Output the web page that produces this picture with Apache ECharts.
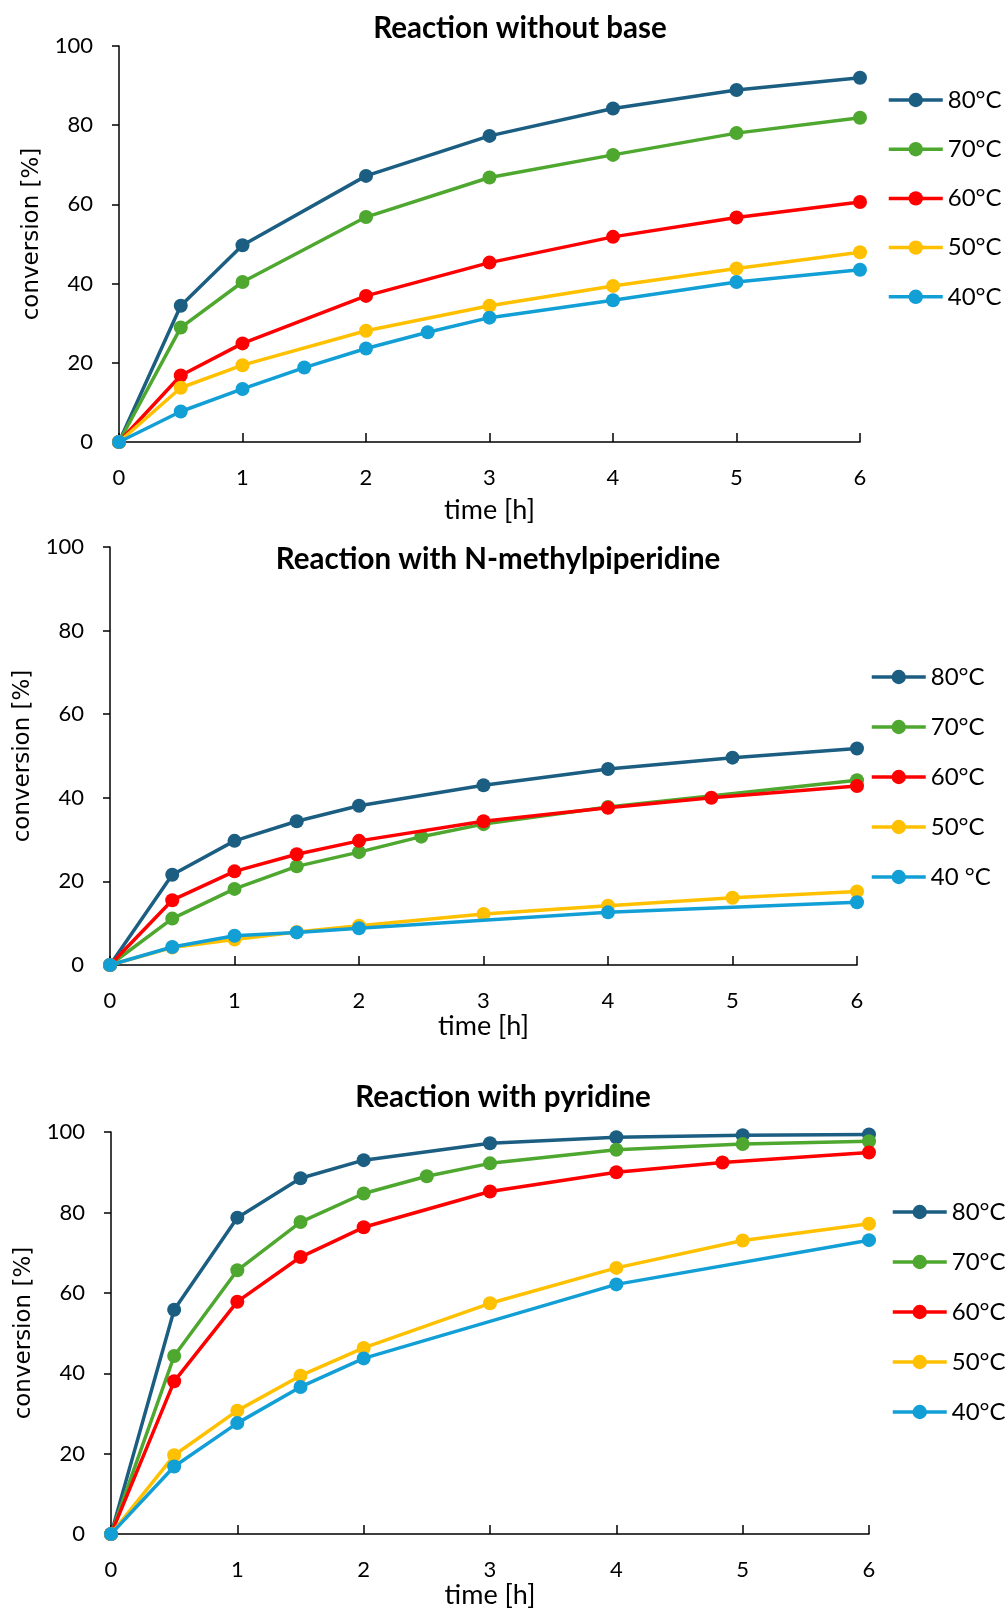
<!DOCTYPE html>
<html><head><meta charset="utf-8">
<script src="https://cdn.jsdelivr.net/npm/echarts@6/dist/echarts.min.js"></script>
<style>html,body{margin:0;padding:0;background:#fff}#c{width:1006px;height:1610px}</style>
</head><body><div id="c"></div>
<script>
// ---------- data ----------
const titles = ['Reaction without base', 'Reaction with N-methylpiperidine', 'Reaction with pyridine'];
const names1 = ['80°C', '70°C', '60°C', '50°C', '40°C'];
const names2 = ['80°C', '70°C', '60°C', '50°C', '40 °C'];
const names3 = ['80°C', '70°C', '60°C', '50°C', '40°C'];
const xTicks = [0, 1, 2, 3, 4, 5, 6];
const yTicks = [0, 20, 40, 60, 80, 100];

// Chart 1: without base
const t1_80 = [0, 0.5, 1, 2, 3, 4, 5, 6];
const c1_80 = [0, 34.4, 49.7, 67.2, 77.3, 84.2, 88.9, 92.0];
const t1_70 = [0, 0.5, 1, 2, 3, 4, 5, 6];
const c1_70 = [0, 28.9, 40.4, 56.8, 66.8, 72.5, 78.0, 81.9];
const t1_60 = [0, 0.5, 1, 2, 3, 4, 5, 6];
const c1_60 = [0, 16.8, 24.9, 36.9, 45.3, 51.8, 56.7, 60.6];
const t1_50 = [0, 0.5, 1, 2, 3, 4, 5, 6];
const c1_50 = [0, 13.7, 19.4, 28.1, 34.4, 39.4, 43.8, 47.9];
const t1_40 = [0, 0.5, 1, 1.5, 2, 2.5, 3, 4, 5, 6];
const c1_40 = [0, 7.7, 13.4, 18.8, 23.6, 27.7, 31.4, 35.8, 40.4, 43.5];

// Chart 2: with N-methylpiperidine
const t2_80 = [0, 0.5, 1, 1.5, 2, 3, 4, 5, 6];
const c2_80 = [0, 21.6, 29.7, 34.4, 38.1, 43.0, 46.9, 49.6, 51.8];
const t2_70 = [0, 0.5, 1, 1.5, 2, 2.5, 3, 4, 6];
const c2_70 = [0, 11.1, 18.2, 23.6, 27.0, 30.7, 33.7, 37.8, 44.2];
const t2_60 = [0, 0.5, 1, 1.5, 2, 3, 4, 4.83, 6];
const c2_60 = [0, 15.5, 22.4, 26.5, 29.7, 34.4, 37.6, 40.0, 42.8];
const t2_50 = [0, 0.5, 1, 1.5, 2, 3, 4, 5, 6];
const c2_50 = [0, 4.2, 6.1, 7.9, 9.4, 12.2, 14.2, 16.1, 17.6];
const t2_40 = [0, 0.5, 1, 1.5, 2, 4, 6];
const c2_40 = [0, 4.3, 7.0, 7.8, 8.8, 12.6, 15.0];

// Chart 3: with pyridine
const t3_80 = [0, 0.5, 1, 1.5, 2, 3, 4, 5, 6];
const c3_80 = [0, 55.8, 78.7, 88.5, 93.0, 97.2, 98.7, 99.2, 99.4];
const t3_70 = [0, 0.5, 1, 1.5, 2, 2.5, 3, 4, 5, 6];
const c3_70 = [0, 44.3, 65.6, 77.6, 84.7, 89.0, 92.2, 95.6, 97.0, 97.7];
const t3_60 = [0, 0.5, 1, 1.5, 2, 3, 4, 4.84, 6];
const c3_60 = [0, 38.0, 57.8, 68.9, 76.3, 85.2, 90.0, 92.4, 94.9];
const t3_50 = [0, 0.5, 1, 1.5, 2, 3, 4, 5, 6];
const c3_50 = [0, 19.6, 30.7, 39.4, 46.3, 57.4, 66.2, 73.0, 77.2];
const t3_40 = [0, 0.5, 1, 1.5, 2, 4, 6];
const c3_40 = [0, 16.8, 27.6, 36.6, 43.7, 62.1, 73.1];

const colors = ['#1b5e82', '#4ea72e', '#ff0000', '#ffc000', '#129fd6'];

// ---------- build ----------
const chartData = [
  {names: names1, t: [t1_80, t1_70, t1_60, t1_50, t1_40], c: [c1_80, c1_70, c1_60, c1_50, c1_40]},
  {names: names2, t: [t2_80, t2_70, t2_60, t2_50, t2_40], c: [c2_80, c2_70, c2_60, c2_50, c2_40]},
  {names: names3, t: [t3_80, t3_70, t3_60, t3_50, t3_40], c: [c3_80, c3_70, c3_60, c3_50, c3_40]}
];
const grids = [
  {left: 119, top: 46, width: 741, height: 396},
  {left: 110, top: 547, width: 747, height: 418},
  {left: 111, top: 1132, width: 758, height: 404}
];
const titlePos = [{x: 515, y: 8}, {x: 493, y: 539}, {x: 498, y: 1077}];
const legendPos = [{x: 882, y: 83}, {x: 865, y: 660}, {x: 886, y: 1195}];
const legendGap = [25.2, 26, 26];
const xNameGap = [55, 46, 46];
const yNameGap = [62, 74, 75];
const yNamePad = [[0, 0, 0, 20], [0, 0, 0, 0], [0, 0, 0, 0]];
const tickFont = {fontFamily: 'Lato', fontSize: 22, color: '#000'};

const option = {
  animation: false,
  backgroundColor: '#fff',
  title: titles.map((t, i) => ({
    text: t, left: titlePos[i].x, top: titlePos[i].y, textAlign: 'center',
    textStyle: {fontFamily: 'Lato', fontWeight: 'bold', fontSize: 29.5, color: '#000'}
  })),
  grid: grids,
  xAxis: grids.map((g, i) => ({
    type: 'value', gridIndex: i, min: 0, max: 6, interval: 1,
    name: 'time [h]', nameLocation: 'middle', nameGap: xNameGap[i],
    nameTextStyle: {fontFamily: 'Lato', fontSize: 27, color: '#000'},
    axisLine: {show: true, lineStyle: {color: '#000', width: 1.5}},
    axisTick: {show: true, inside: true, length: 9, lineStyle: {color: '#000', width: 1.5}},
    axisLabel: Object.assign({margin: 25, formatter: v => xTicks.includes(v) ? String(v) : ''}, tickFont),
    splitLine: {show: false}
  })),
  yAxis: grids.map((g, i) => ({
    type: 'value', gridIndex: i, min: 0, max: 100, interval: 20,
    name: 'conversion [%]', nameLocation: 'middle', nameGap: yNameGap[i], nameRotate: 90,
    nameTextStyle: {fontFamily: 'DejaVu Sans', fontSize: 23, color: '#000', padding: yNamePad[i]},
    axisLine: {show: true, lineStyle: {color: '#000', width: 1.5}},
    axisTick: {show: true, inside: false, length: 7, lineStyle: {color: '#000', width: 1.5}},
    axisLabel: Object.assign({margin: 26, formatter: v => yTicks.includes(v) ? String(v) : ''}, tickFont),
    splitLine: {show: false}
  })),
  legend: chartData.map((cd, i) => ({
    orient: 'vertical', left: legendPos[i].x, top: legendPos[i].y,
    data: cd.names, itemWidth: 54, itemHeight: 18, itemGap: legendGap[i],
    lineStyle: {width: 3.5},
    textStyle: {fontFamily: 'Lato', fontSize: 24, color: '#000'},
    selectedMode: false
  })),
  series: []
};
chartData.forEach((cd, i) => {
  cd.names.forEach((n, k) => {
    option.series.push({
      type: 'line', name: n, xAxisIndex: i, yAxisIndex: i,
      data: cd.t[k].map((tt, j) => [tt, cd.c[k][j]]),
      symbol: 'circle', symbolSize: 14,
      lineStyle: {color: colors[k], width: 3.5},
      itemStyle: {color: colors[k]},
      z: 2 + k
    });
  });
});
const chart = echarts.init(document.getElementById('c'), null, {renderer: 'canvas'});
chart.setOption(option);
</script></body></html>
